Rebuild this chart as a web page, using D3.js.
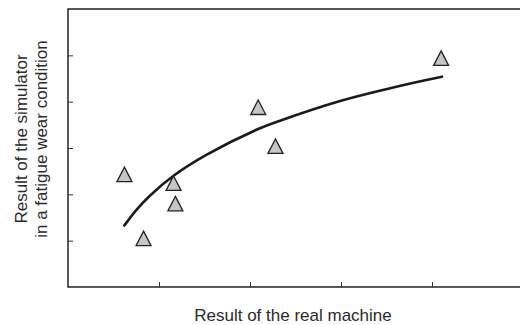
<!DOCTYPE html>
<html>
<head>
<meta charset="utf-8">
<script src="https://cdn.jsdelivr.net/npm/d3@7"></script>
<style>
  html, body { margin: 0; padding: 0; background: #fff; }
  svg { display: block; font-family: "Liberation Sans", Arial, sans-serif; }
</style>
</head>
<body>
<div id="container"></div>
<script>
// measured points (real machine vs simulator)
const realX = [0.62, 0.83, 1.16, 1.18, 2.09, 2.28, 4.10];
const simY = [2.43, 1.05, 2.24, 1.80, 3.88, 3.04, 4.94];

// fitted curve
const fitX = [0.62, 0.75, 0.90, 1.16, 1.52, 2.09, 2.33, 3.00, 3.54, 3.76, 4.11];
const fitY = [1.33, 1.66, 1.97, 2.40, 2.85, 3.41, 3.59, 4.02, 4.29, 4.39, 4.54];

const xTicks = [1, 2, 3, 4];
const yTicks = [1, 2, 3, 4, 5];

const W = 520, H = 325;
const margin = { top: 9, left: 68 };
const plotW = 455, plotH = 278;

const svg = d3.select("#container").append("svg")
  .attr("width", W).attr("height", H);

const x = d3.scaleLinear().domain([0, 5]).range([margin.left, margin.left + plotW]);
const y = d3.scaleLinear().domain([0, 6]).range([margin.top + plotH, margin.top]);

// frame
svg.append("rect")
  .attr("x", x(0)).attr("y", y(6))
  .attr("width", x(5) - x(0)).attr("height", y(0) - y(6))
  .attr("fill", "none").attr("stroke", "#222").attr("stroke-width", 1.5);

// inward ticks, no labels
const xAxis = svg.append("g")
  .attr("transform", `translate(0,${y(0)})`)
  .call(d3.axisBottom(x).tickValues(xTicks).tickSize(-5).tickFormat(""));
const yAxis = svg.append("g")
  .attr("transform", `translate(${x(0)},0)`)
  .call(d3.axisLeft(y).tickValues(yTicks).tickSize(-5).tickFormat(""));
[xAxis, yAxis].forEach(g => {
  g.select(".domain").remove();
  g.selectAll(".tick line").attr("stroke", "#333").attr("stroke-width", 1);
});

// fit line
const pts = fitX.map((v, i) => [v, fitY[i]]);
svg.append("path")
  .datum(pts)
  .attr("fill", "none")
  .attr("stroke", "#1a1a1a")
  .attr("stroke-width", 2.6)
  .attr("stroke-linecap", "round")
  .attr("d", d3.line().x(d => x(d[0])).y(d => y(d[1])).curve(d3.curveCatmullRom));

// triangles
const tw = 15, th = 14.5;
svg.selectAll("path.tri")
  .data(realX.map((v, i) => [v, simY[i]]))
  .enter().append("path")
  .attr("class", "tri")
  .attr("transform", d => `translate(${x(d[0])},${y(d[1])})`)
  .attr("d", `M0,${-th / 2}L${tw / 2},${th / 2}L${-tw / 2},${th / 2}Z`)
  .attr("fill", "#c6c6c6")
  .attr("stroke", "#222")
  .attr("stroke-width", 1.3)
  .attr("stroke-linejoin", "miter");

// axis titles
svg.append("text")
  .attr("x", 293).attr("y", 321)
  .attr("text-anchor", "middle")
  .attr("font-size", 17)
  .attr("fill", "#2a2a2a")
  .text("Result of the real machine");

const yt = svg.append("text")
  .attr("transform", "translate(27,139) rotate(-90)")
  .attr("text-anchor", "middle")
  .attr("font-size", 17)
  .attr("fill", "#2a2a2a");
yt.append("tspan").attr("x", 0).attr("y", 0).text("Result of the simulator");
yt.append("tspan").attr("x", 0).attr("y", 19.5).text("in a fatigue wear condition");
</script>
</body>
</html>
